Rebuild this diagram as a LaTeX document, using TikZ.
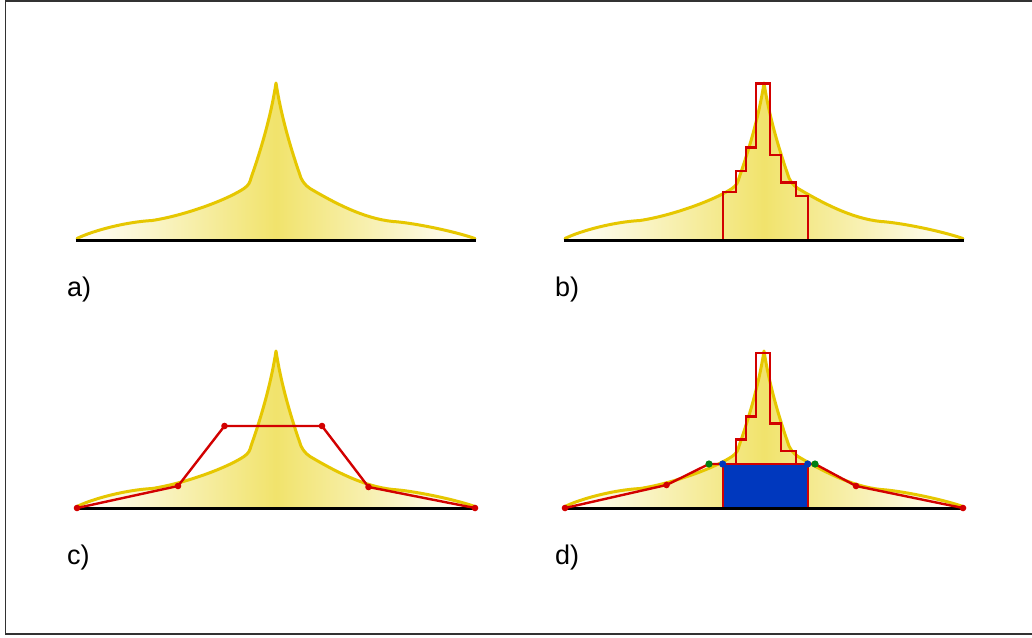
\documentclass[tikz,border=0pt]{standalone}
\usepackage{fontspec}
\setmainfont{Liberation Sans}
\definecolor{gold}{RGB}{230,199,0}
\definecolor{sand}{RGB}{241,227,108}
\definecolor{cred}{RGB}{210,0,0}
\definecolor{cblue}{RGB}{0,56,190}
\definecolor{cgreen}{RGB}{0,128,20}
\definecolor{framec}{RGB}{50,50,50}
\tikzset{
  curvepath/.style={insert path={(77,238.5) .. controls (92,231) and (125,222) .. (152,220.5)
     .. controls (182,216) and (225,201) .. (244,188.5)
     .. controls (249,185) and (250,182) .. (251,178)
     .. controls (258,158) and (270,122) .. (276,83)
     .. controls (282,122) and (294,158) .. (301,178)
     .. controls (303,182) and (305,185) .. (310,188.5)
     .. controls (333,202) and (363,218.5) .. (393,221.5)
     .. controls (410,222.5) and (450,230) .. (475,238.5)}},
  curvefill/.style={left color=white,right color=white,middle color=sand},
  curveline/.style={draw=gold,line width=3pt,line join=round,line cap=round},
  baseline/.style={draw=black,line width=3pt},
  redline/.style={draw=cred,line width=2.4pt,line join=miter},
  reddot/.style={fill=cred,draw=none},
  bluedot/.style={fill=cblue,draw=none},
  greendot/.style={fill=cgreen,draw=none},
  bluebox/.style={fill=cblue,draw=cred,line width=2.4pt},
  lbl/.style={anchor=base west,inner sep=0pt,font=\fontsize{27}{31}\selectfont},
  framel/.style={draw=framec,line width=1.5pt},
  histpath/.style={insert path={(234.7,240) -- (234.7,191.7) -- (248,191.7) -- (248,170.7) -- (257.7,170.7) -- (257.7,147.3) -- (268,147.3) -- (268,83.3) -- (282,83.3) -- (282,155) -- (293,155) -- (293,182.3) -- (308,182.3) -- (308,195.7) -- (319.7,195.7) -- (319.7,240)}},
  histtop/.style={insert path={(234.7,196) -- (248,196) -- (248,171.3) -- (257.7,171.3) -- (257.7,148.3) -- (268,148.3) -- (268,84.7) -- (282,84.7) -- (282,155.3) -- (293,155.3) -- (293,183) -- (308,183) -- (308,196) -- (319.7,196)}}
}
\newcommand\peakpanel{%
  \shade[curvefill,curvepath] -- (475,240) -- (77,240) -- cycle;
  \path[curveline,curvepath];
}
\begin{document}
\begin{tikzpicture}[x=1pt,y=-1pt]
\useasboundingbox (0,0) rectangle (1032,637);
\fill[white] (0,0) rectangle (1032,637);
\draw[framel] (1032,0.75) -- (5.5,0.75) -- (5.5,634) -- (1032,634);

% panel a
\begin{scope}
  \peakpanel
  \draw[baseline] (76,240) -- (476,240);
\end{scope}
\node[lbl] (la) at (67,296) {a)};

% panel b
\begin{scope}[shift={(488,0)}]
  \peakpanel
  \path[redline,histpath];
  \draw[baseline] (76,240) -- (476,240);
\end{scope}
\node[lbl] (lb) at (555,296) {b)};

% panel c
\begin{scope}[shift={(0,268)}]
  \peakpanel
  \draw[baseline] (76,240) -- (476,240);
  \coordinate (c1) at (77,240);
  \coordinate (c2) at (178,218);
  \coordinate (c3) at (224.5,158);
  \coordinate (c4) at (322,158);
  \coordinate (c5) at (368.5,219);
  \coordinate (c6) at (475,240);
  \draw[redline] (c1) -- (c2) -- (c3) -- (c4) -- (c5) -- (c6);
  \foreach \p in {c1,c2,c3,c4,c5,c6} \fill[reddot] (\p) circle (3.3);
\end{scope}
\node[lbl] (lc) at (67,564) {c)};

% panel d
\begin{scope}[shift={(488,268)}]
  \peakpanel
  \draw[bluebox] (234.7,196) rectangle (319.7,240);
  \path[redline,histtop];
  \draw[baseline] (76,240) -- (476,240);
  \coordinate (d1) at (77,240);
  \coordinate (d2) at (178.5,217);
  \coordinate (d3) at (221,196);
  \coordinate (d4) at (234.7,196);
  \coordinate (d5) at (319.7,196);
  \coordinate (d6) at (327,196);
  \coordinate (d7) at (368,218);
  \coordinate (d8) at (475,240);
  \draw[redline] (d1) -- (d2) -- (d3) -- (d4);
  \draw[redline] (d5) -- (d6) -- (d7) -- (d8);
  \foreach \p in {d1,d2,d7,d8} \fill[reddot] (\p) circle (3.3);
  \foreach \p in {d3,d6} \fill[greendot] (\p) circle (3.6);
  \foreach \p in {d4,d5} \fill[bluedot] (\p) circle (3.6);
\end{scope}
\node[lbl] (ld) at (555,564) {d)};
\end{tikzpicture}
\end{document}
